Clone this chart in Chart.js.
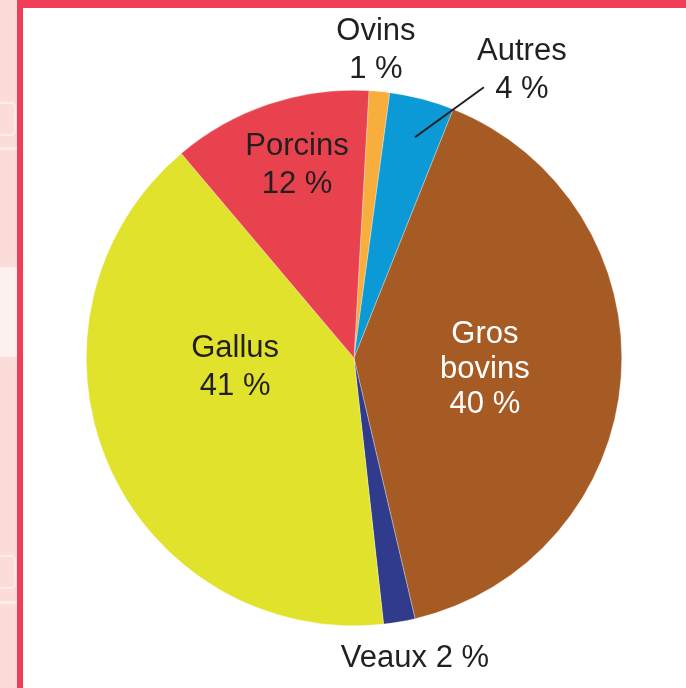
<!DOCTYPE html>
<html>
<head>
<meta charset="utf-8">
<script src="https://cdn.jsdelivr.net/npm/chart.js@4/dist/chart.umd.min.js"></script>
<style>
  html, body { margin: 0; padding: 0; background: #ffffff; }
  #wrap { position: relative; width: 686px; height: 688px; overflow: hidden; background: #ffffff; }
  #side { position: absolute; left: 0; top: 0; width: 17px; height: 688px; background: #fcdcd8; overflow: hidden; }
  #side .light { position: absolute; left: 0; width: 17px; background: #fdf1ef; }
  #side .icon { position: absolute; left: -8px; width: 20px; height: 30px; border: 2px solid #fdeceb; border-radius: 5px; }
  #side .bar { position: absolute; left: 0; width: 17px; height: 3px; background: #fdeceb; }
  #vline { position: absolute; left: 17px; top: 0; width: 6px; height: 688px; background: #ef3d5a; }
  #hband { position: absolute; left: 17px; top: 0; width: 669px; height: 8px; background: #ef3d5a; }
  canvas { position: absolute; left: 0; top: 0; }
</style>
</head>
<body>
<div id="wrap">
  <div id="side">
    <div class="icon" style="top:102px;"></div>
    <div class="bar" style="top:147px;"></div>
    <div class="light" style="top:267px;height:90px;"></div>
    <div class="icon" style="top:555px;"></div>
    <div class="bar" style="top:601px;"></div>
  </div>
  <div id="vline"></div>
  <div id="hband"></div>
  <canvas id="c" width="686" height="688"></canvas>
</div>
<script>
// ---- Data ----
const categories = ["Ovins", "Autres", "Gros bovins", "Veaux", "Gallus", "Porcins"];
const shares = [1.25, 3.9, 40.3, 1.9, 40.6, 12.05];        // slice sizes (%)
const shownPercent = [1, 4, 40, 2, 41, 12];                 // rounded labels
const labelLines = [
  ["Ovins", "1 %"],
  ["Autres", "4 %"],
  ["Gros", "bovins", "40 %"],
  ["Veaux 2 %"],
  ["Gallus", "41 %"],
  ["Porcins", "12 %"]
];

// ---- Style ----
const colors = ["#f8ae3d", "#0b9ad6", "#a65b24", "#313b8b", "#e0e22c", "#e8424f"];
const textColors = ["#231f20", "#231f20", "#ffffff", "#231f20", "#231f20", "#231f20"];
// label anchor offsets relative to pie centre (px at radius 268): [dx, dy of first baseline, line height]
const labelLayout = [
  [22, -318, 38],
  [168, -298, 38],
  [131, -15, 35],
  [61, 309, 38],
  [-119, -1, 38],
  [-57, -203, 38]
];
const leader = { from: [61, -221], to: [130, -271] };
const FONT = '31px "Liberation Sans", Arial, Helvetica, sans-serif';

const labelPlugin = {
  id: 'labels',
  afterDatasetsDraw(chart) {
    const arc = chart.getDatasetMeta(0).data[0];
    const cx = arc.x, cy = arc.y, s = arc.outerRadius / 268;
    const ctx = chart.ctx;
    ctx.save();
    // leader line for "Autres"
    ctx.strokeStyle = '#231f20';
    ctx.lineWidth = 2;
    ctx.beginPath();
    ctx.moveTo(cx + leader.from[0] * s, cy + leader.from[1] * s);
    ctx.lineTo(cx + leader.to[0] * s, cy + leader.to[1] * s);
    ctx.stroke();
    ctx.font = FONT;
    ctx.textAlign = 'center';
    ctx.textBaseline = 'alphabetic';
    labelLines.forEach((lines, i) => {
      const [dx, dy, lh] = labelLayout[i];
      ctx.fillStyle = textColors[i];
      lines.forEach((t, j) => {
        ctx.fillText(t, cx + dx * s, cy + dy * s + j * lh * s);
      });
    });
    ctx.restore();
  }
};

new Chart(document.getElementById('c'), {
  type: 'pie',
  data: {
    labels: categories,
    datasets: [{
      data: shares,
      backgroundColor: colors,
      borderColor: 'rgba(255,255,255,0.6)',
      borderWidth: 0.5
    }]
  },
  options: {
    responsive: false,
    animation: false,
    rotation: 3.2,
    layout: { padding: { left: 86, right: 64, top: 90, bottom: 62 } },
    plugins: { legend: { display: false }, tooltip: { enabled: false } }
  },
  plugins: [labelPlugin]
});
</script>
</body>
</html>
